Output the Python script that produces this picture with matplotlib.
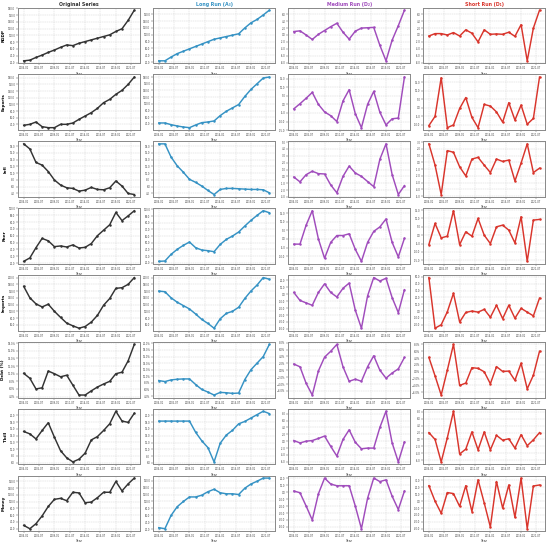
import matplotlib
matplotlib.use("Agg")
import matplotlib.dates as mdates
import numpy as np
import pandas as pd
from matplotlib import pyplot as plt
from matplotlib.ticker import FormatStrFormatter, PercentFormatter

dates = pd.date_range("2004-01-01", periods=19, freq="YS")
tick_dates = pd.date_range("2004-01-01", periods=8, freq="30MS")

variables = ["RGDP", "Exports", "Infl", "Reer", "Imports", "Debt (%)", "Tbill", "Money"]
columns = ["Original Series", "Long Run (A₃)", "Medium Run (D₂)", "Short Run (D₁)"]
colors = ["#333333", "#3592c4", "#a04cbc", "#d9352c"]

# original series
rgdp = [25, 27, 35, 42, 50, 57, 65, 72, 70, 77, 82, 87, 92, 97, 102, 112, 120, 145, 175]
exports = [37, 40, 47, 33, 30, 30, 40, 40, 44, 55, 65, 75, 88, 105, 115, 130, 142, 160, 182]
infl = [18.7, 17.2, 13.2, 12.4, 10.5, 8.0, 6.5, 5.7, 5.5, 4.7, 5.0, 5.8, 5.2, 5.1, 5.7, 7.7, 6.2, 4.0, 3.7]
reer = [22.5, 27.5, 42.5, 56, 52.5, 44, 45, 43.5, 46.5, 42, 43, 48.5, 60, 68, 76, 94, 82, 89, 96.5]
imports = [174, 140, 122, 113, 121, 100, 82, 65, 57, 50, 55, 68, 88, 118, 138, 168, 170, 180, 200]
debt = [10.1, 8.8, 6.0, 6.3, 10.7, 10.0, 9.2, 9.6, 7.0, 4.4, 4.4, 5.5, 6.5, 7.3, 8.0, 10.0, 10.4, 13.4, 17.7]
tbill = [15.2, 14.5, 13.0, 15.5, 17.8, 13.5, 9.5, 7.4, 6.2, 7.0, 8.8, 12.7, 13.7, 15.5, 17.5, 21.2, 18.3, 17.9, 20.6]
money = [30, 20, 35, 58, 86, 107, 110, 103, 128, 126, 97, 99, 112, 128, 128, 160, 132, 153, 170]

# long run component
rgdp_long = [24, 24, 35, 45, 52, 59, 66, 73, 80, 87, 91, 95, 99, 103, 120, 135, 145, 158, 172]
exports_long = [43, 43, 38, 34, 31, 29, 37, 44, 46, 49, 65, 78, 88, 98, 122, 143, 160, 177, 180]
infl_long = [18.7, 18.7, 14.8, 12.2, 10.3, 8.2, 7.3, 6.2, 4.9, 3.7, 5.2, 5.5, 5.5, 5.4, 5.3, 5.2, 5.2, 5.1, 4.2]
reer_long = [22, 22.5, 32.5, 40, 46, 51, 42.5, 39, 38, 36.5, 47.5, 55, 60, 66, 75, 83.5, 91, 98, 95]
imports_long = [160, 158, 140, 127, 117, 107, 92, 76, 64, 50, 78, 94, 100, 112, 138, 160, 178, 200, 195]
debt_long = [8.7, 8.4, 8.9, 9.1, 9.2, 9.2, 7.5, 6.0, 5.2, 4.3, 5.1, 5.0, 4.8, 4.9, 9.0, 12.0, 14.0, 16.0, 19.7]
tbill_long = [18.3, 18.3, 18.3, 18.3, 18.3, 18.3, 15.0, 12.5, 10.5, 6.3, 11.8, 14.2, 15.6, 17.5, 18.2, 19.2, 20.2, 21.2, 20.5]
money_long = [25, 22, 60, 85, 100, 113, 113, 118, 128, 135, 125, 122, 122, 120, 138, 150, 158, 167, 167]

# medium run component
rgdp_med = [1.0, 1.2, 0.0, -1.3, 0.2, 1.3, 2.4, 3.4, 0.8, -1.2, 1.1, 2.0, 2.1, 2.2, -3.0, -7.5, -1.5, 2.7, 7.2]
exports_med = [-2.6, 0.4, 3.6, 7.0, 0.0, -4.4, -6.6, -10.0, 2.0, 8.6, -5.4, -13.6, 0.0, 7.6, -4.6, -12.0, -8.4, -8.0, 16.0]
infl_med = [-0.1, -0.8, 0.25, 0.75, 0.4, 0.35, -1.25, -2.4, 0.0, 1.5, 0.5, 0.0, -0.75, -1.5, 2.5, 4.75, 0.25, -2.65, -1.35]
reer_med = [-3, -3, 8, 16.4, 0, -11.2, -2, 2, 2, 3, -6, -13, -2, 4.4, 7, 11.6, -2, -10.4, 0.4]
imports_med = [2.5, -9, -12.5, -16, 2.5, 15, 2.5, -4, 8.5, 16, -23, -49, -2.5, 24, 19, 23, -5, -26.5, 6.5]
debt_med = [1.8, 1.0, -3.8, -7.2, -0.2, 3.8, 5.5, 7.5, 1.0, -3.2, -2.6, -3.2, 1.0, 4.2, 0.0, -2.3, -0.8, 0.4, 3.7]
tbill_med = [0.2, -0.5, 0, 0.2, 0.8, 1.5, -1.5, -4.3, 0.5, 3.3, -0.3, -2.2, -2.0, -2.0, 4.0, 8.7, -0.5, -6.0, -0.2]
money_med = [1.5, -1, -20, -40, -2.5, 20, 11.5, 9, 9, 9, -20, -52.5, -9, 20, 15, 17.5, -6, -25, 1.5]

# short run component
rgdp_short = [-0.3, 0.4, 0.4, 0.0, 0.7, -0.3, 1.5, 0.5, -2.0, 1.5, 0.2, 0.3, 0.2, 0.8, -0.4, 3.0, -7.5, 2.0, 7.2]
exports_short = [-10.4, -5.0, 17.6, -11.6, -10.0, -0.4, 6.0, -5.6, -11.6, 2.0, 1.0, -2.4, -8.4, 3.0, -7.2, 1.6, -9.6, -6.2, 18.0]
infl_short = [2.75, -0.4, -4.75, 1.75, 1.5, -0.65, -2.0, 0.5, 0.75, -0.4, -1.5, 0.5, 0.15, 0.35, -2.75, -0.1, 2.75, -1.5, -0.85]
reer_short = [-5.6, 7, -1.6, -0.6, 14.6, -5.6, 2, -0.6, 10, 0, -5, 5, 6, 3, -4.6, 11, -15.6, 9, 9.4]
imports_short = [49, -25, -20, -1, 26, -16, -2, 0, -1.5, 2.5, -9, 8.5, -11, 8.5, -10.5, 4, -1.5, -7, 19]
debt_short = [4.2, -1.2, -6.8, 0.5, 8.0, -4.0, -3.3, 1.2, 1.0, 0.0, -3.5, 1.5, 0.1, 0.2, -2.5, 2.5, -5.0, -1.0, 6.0]
tbill_short = [2.0, 0, -6.5, 0.5, 8.2, -4.2, -2.8, 2.2, -3.0, 2.2, -3.0, 1.2, -0.2, 0.2, -2.5, 1.4, -1.8, -0.1, 2.0]
money_short = [22.5, 0, -17.5, 12.5, 11, -7.5, 22.5, -15, 31, -2.5, -37.5, 28.5, -10, 23.5, -23.5, 33.5, -40, 22, 23.5]

table = [
    [rgdp, rgdp_long, rgdp_med, rgdp_short],
    [exports, exports_long, exports_med, exports_short],
    [infl, infl_long, infl_med, infl_short],
    [reer, reer_long, reer_med, reer_short],
    [imports, imports_long, imports_med, imports_short],
    [debt, debt_long, debt_med, debt_short],
    [tbill, tbill_long, tbill_med, tbill_short],
    [money, money_long, money_med, money_short],
]

fig, axes = plt.subplots(8, 4, figsize=(5.5, 5.46), dpi=100)
fig.subplots_adjust(left=0.033, right=0.991, top=0.986, bottom=0.027, wspace=0.11, hspace=0.2)

for r, row in enumerate(table):
    for c, values in enumerate(row):
        ax = axes[r, c]
        ax.plot(dates, values, color=colors[c], lw=1.05, marker="o", markersize=0.8)
        ax.grid(True, color="#cccccc", linestyle="--", linewidth=0.3)
        ax.set_xticks(tick_dates)
        ax.xaxis.set_major_formatter(mdates.DateFormatter("%Y-%m"))
        ax.tick_params(labelsize=1.8, length=1.2, width=0.3, pad=1, colors="#444444")
        ax.set_xlabel("Year", fontsize=2.3, labelpad=0.8, color="#333333")
        if r == 5:
            ax.yaxis.set_major_formatter(PercentFormatter(decimals=1))
        else:
            ax.yaxis.set_major_formatter(FormatStrFormatter("%.1f"))
        for s in ax.spines.values():
            s.set_color("#888888")
            s.set_linewidth(0.7)
        if r == 0:
            ax.set_title(columns[c], fontsize=3.4, fontweight="bold", color=colors[c], pad=1.2)
        if c == 0:
            ax.set_ylabel(variables[r], fontsize=3.0, fontweight="bold", labelpad=1.5)

fig.savefig("out.png", dpi=100)
